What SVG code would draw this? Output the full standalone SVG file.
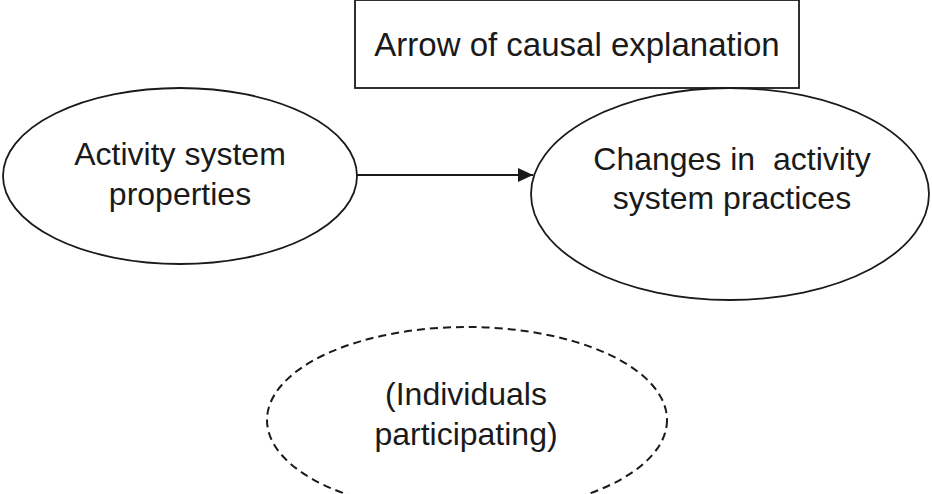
<svg xmlns="http://www.w3.org/2000/svg" width="932" height="494" viewBox="0 0 932 494">
  <style>
    .shape { fill: #ffffff; stroke: #1a1a1a; stroke-width: 1.8; }
    .dashed { fill: none; stroke: #1a1a1a; stroke-width: 2; stroke-dasharray: 8 5; }
    .label { font-family: "Liberation Sans", Arial, sans-serif; font-size: 32px; fill: #1a1a1a; text-anchor: middle; }
    .edge { fill: none; stroke: #1a1a1a; stroke-width: 1.8; }
  </style>
  <defs>
    <marker id="arrowhead" markerWidth="15" markerHeight="14" refX="15" refY="7" orient="auto" markerUnits="userSpaceOnUse">
      <path d="M0,0 L15,7 L0,14 Z" fill="#1a1a1a"/>
    </marker>
  </defs>
  <rect width="932" height="494" fill="#ffffff"/>

  <g id="node-causal-label">
    <rect class="shape" x="355" y="0" width="444" height="88"/>
    <text class="label" x="577" y="56" style="font-size:33px">Arrow of causal explanation</text>
  </g>

  <g id="node-properties">
    <ellipse class="shape" cx="180" cy="176" rx="177" ry="88"/>
    <text class="label" x="180" y="165">Activity system</text>
    <text class="label" x="180" y="205">properties</text>
  </g>

  <g id="node-practices">
    <ellipse class="shape" cx="730" cy="194" rx="199" ry="106"/>
    <text class="label" x="732" y="170" style="white-space:pre" xml:space="preserve">Changes in  activity</text>
    <text class="label" x="732" y="209">system practices</text>
  </g>

  <g id="node-individuals">
    <ellipse class="dashed" cx="467" cy="420" rx="200" ry="93"/>
    <text class="label" x="466" y="405">(Individuals</text>
    <text class="label" x="466" y="445">participating)</text>
  </g>

  <g id="connectors">
    <line class="edge" x1="357" y1="175" x2="533" y2="175" marker-end="url(#arrowhead)"/>
  </g>
</svg>
